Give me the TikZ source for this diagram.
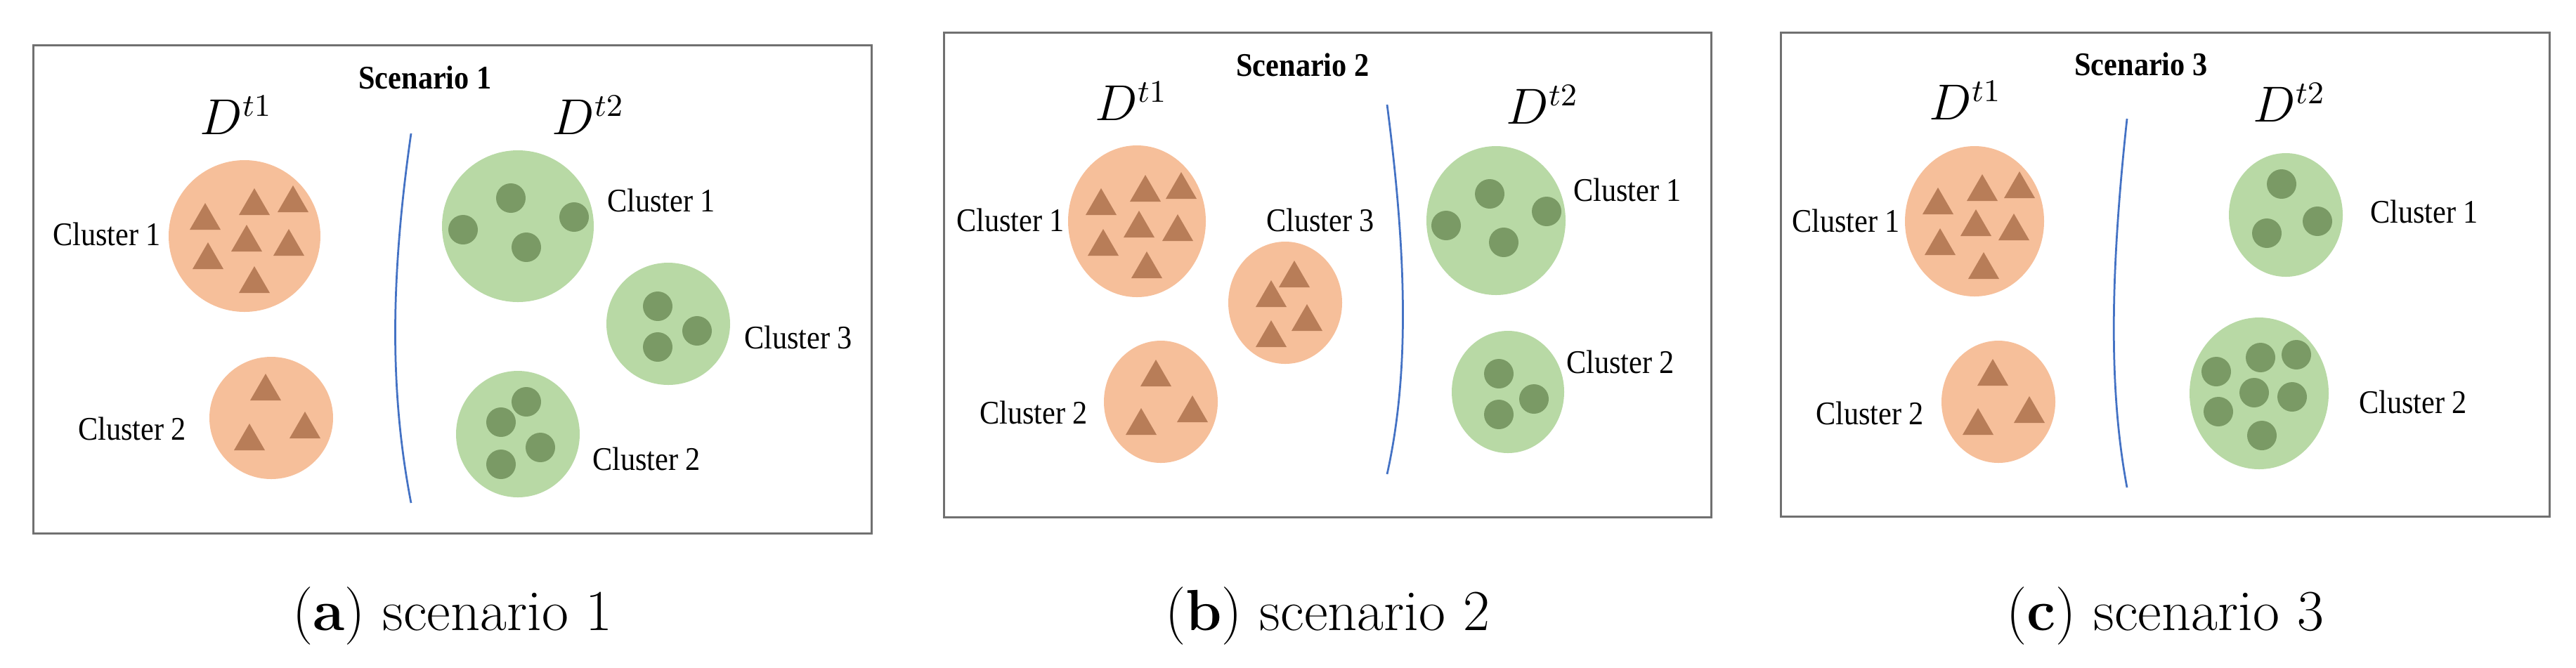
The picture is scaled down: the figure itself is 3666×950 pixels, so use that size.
\documentclass[tikz,border=0pt]{standalone}
\usepackage{fontspec}
\newfontfamily\lib{Liberation Serif}
\usetikzlibrary{shapes.geometric}
\definecolor{orf}{HTML}{F6BF9A}
\definecolor{trc}{HTML}{B87D58}
\definecolor{grf}{HTML}{B8D9A5}
\definecolor{dtc}{HTML}{7A9A65}
\definecolor{blu}{HTML}{4472C4}
\definecolor{bxc}{HTML}{707070}
\tikzset{
  box/.style={draw=bxc,line width=0.6pt},
  sep/.style={draw=blu,line width=0.55pt},
  lab/.style={font=\lib\fontsize{9.4}{11}\selectfont,inner sep=0,xscale=0.9},
  ttl/.style={font=\lib\bfseries\fontsize{9.4}{11}\selectfont,inner sep=0,xscale=0.9},
  dd/.style={font=\fontsize{13.5}{15}\selectfont,inner sep=0},
  captxt/.style={font=\fontsize{16.5}{20}\selectfont,inner sep=0},
  ocl/.style={ellipse,fill=orf,inner sep=0},
  gcl/.style={ellipse,fill=grf,inner sep=0},
  tri/.style={fill=trc},
  dot/.style={fill=dtc},
}
\newcommand\mytri[2]{\fill[tri] (#1,#2) ++(-22,19) -- ++(22,-38) -- ++(22,38) -- cycle;}
\newcommand\mydot[2]{\fill[dot] (#1,#2) circle[x radius=4.2pt,y radius=4.2pt];}
\newcommand\cl[6]{\node[#1,minimum width=#5*0.4pt,minimum height=#6*0.4pt] (#2) at (#3,#4) {};}
\begin{document}
\begin{tikzpicture}[x=0.2pt,y=-0.2pt]
\useasboundingbox (0,0) rectangle (3666,950);
% ---------- panel a
\node[box,minimum width=238.4pt,minimum height=139pt,inner sep=0] (ba) at (644,411.5) {};
\node[ttl] (sa) at (605,110) {Scenario 1};
\node[dd] (da1) at (336,164) {$D^{t1}$};
\node[dd] (da2) at (837,164) {$D^{t2}$};
\coordinate (la1) at (585,190); \coordinate (la2) at (585,716);
\draw[sep] (la1) .. controls (555,400) and (555,560) .. (la2);
\cl{ocl}{ao1}{348}{336}{108}{108}
\cl{ocl}{ao2}{386}{595}{88}{87}
\cl{gcl}{ag1}{737}{322}{108}{108}
\cl{gcl}{ag3}{951}{461}{88}{87}
\cl{gcl}{ag2}{737}{618}{88}{90}
\mytri{292}{308}\mytri{362}{287}\mytri{417}{283}\mytri{351}{339}\mytri{411}{345}\mytri{296}{364}\mytri{362}{398}
\mytri{378}{551}\mytri{355}{622}\mytri{434}{605}
\mydot{727}{282}\mydot{659}{327}\mydot{817}{309}\mydot{749}{352}
\mydot{936}{436}\mydot{992}{471}\mydot{936}{494}
\mydot{749}{572}\mydot{713}{601}\mydot{769}{637}\mydot{713}{661}
\node[lab] (aL1) at (152,333) {Cluster 1};
\node[lab] (aL2) at (188,610) {Cluster 2};
\node[lab] (aR1) at (941,285) {Cluster 1};
\node[lab] (aR3) at (1136,480) {Cluster 3};
\node[lab] (aR2) at (920,653) {Cluster 2};
\node[captxt] (ca) at (644,877) {(\textbf{a}) scenario 1};
% ---------- panel b
\node[box,minimum width=218.4pt,minimum height=138pt,inner sep=0] (bb) at (1889,391) {};
\node[ttl] (sb) at (1854,92) {Scenario 2};
\node[dd] (db1) at (1610,144) {$D^{t1}$};
\node[dd] (db2) at (2195,149) {$D^{t2}$};
\coordinate (lb1) at (1974,149); \coordinate (lb2) at (1974,675);
\draw[sep] (lb1) .. controls (2004,380) and (2004,540) .. (lb2);
\cl{ocl}{bo1}{1618}{315}{98}{108}
\cl{ocl}{bo3}{1829}{431}{81}{87}
\cl{ocl}{bo2}{1652}{572}{81}{87}
\cl{gcl}{bg1}{2129}{314}{99}{106}
\cl{gcl}{bg2}{2146}{558}{80}{87}
\mytri{1567}{287}\mytri{1630}{268}\mytri{1681}{264}\mytri{1621}{319}\mytri{1676}{324}\mytri{1570}{345}\mytri{1632}{377}
\mytri{1842}{390}\mytri{1809}{418}\mytri{1860}{452}\mytri{1809}{475}
\mytri{1645}{531}\mytri{1624}{600}\mytri{1697}{582}
\mydot{2120}{276}\mydot{2058}{321}\mydot{2201}{301}\mydot{2140}{345}
\mydot{2133}{532}\mydot{2183}{568}\mydot{2133}{590}
\node[lab] (bL1) at (1438,313) {Cluster 1};
\node[lab] (bL3) at (1879,313) {Cluster 3};
\node[lab] (bL2) at (1471,587) {Cluster 2};
\node[lab] (bR1) at (2316,270) {Cluster 1};
\node[lab] (bR2) at (2306,515) {Cluster 2};
\node[captxt] (cb) at (1889,877) {(\textbf{b}) scenario 2};
% ---------- panel c
\node[box,minimum width=218.8pt,minimum height=137.8pt,inner sep=0] (bc) at (3081,390.5) {};
\node[ttl] (sc) at (3047,91) {Scenario 3};
\node[dd] (dc1) at (2797,143) {$D^{t1}$};
\node[dd] (dc2) at (3258,146) {$D^{t2}$};
\coordinate (lc1) at (3027,169); \coordinate (lc2) at (3027,694);
\draw[sep] (lc1) .. controls (3002,400) and (3002,560) .. (lc2);
\cl{ocl}{co1}{2810}{315}{99}{107}
\cl{ocl}{co2}{2844}{572}{81}{87}
\cl{gcl}{cg1}{3253}{306}{81}{88}
\cl{gcl}{cg2}{3215}{560}{99}{108}
\mytri{2758}{286}\mytri{2821}{267}\mytri{2874}{263}\mytri{2812}{317}\mytri{2866}{323}\mytri{2761}{344}\mytri{2823}{378}
\mytri{2836}{530}\mytri{2815}{600}\mytri{2888}{583}
\mydot{3247}{262}\mydot{3298}{315}\mydot{3226}{332}
\mydot{3154}{529}\mydot{3217}{509}\mydot{3268}{505}\mydot{3208}{559}\mydot{3262}{565}\mydot{3157}{586}\mydot{3219}{620}
\node[lab] (cL1) at (2627,314) {Cluster 1};
\node[lab] (cL2) at (2661,588) {Cluster 2};
\node[lab] (cR1) at (3450,301) {Cluster 1};
\node[lab] (cR2) at (3434,572) {Cluster 2};
\node[captxt] (cc) at (3081,877) {(\textbf{c}) scenario 3};
\end{tikzpicture}
\end{document}
